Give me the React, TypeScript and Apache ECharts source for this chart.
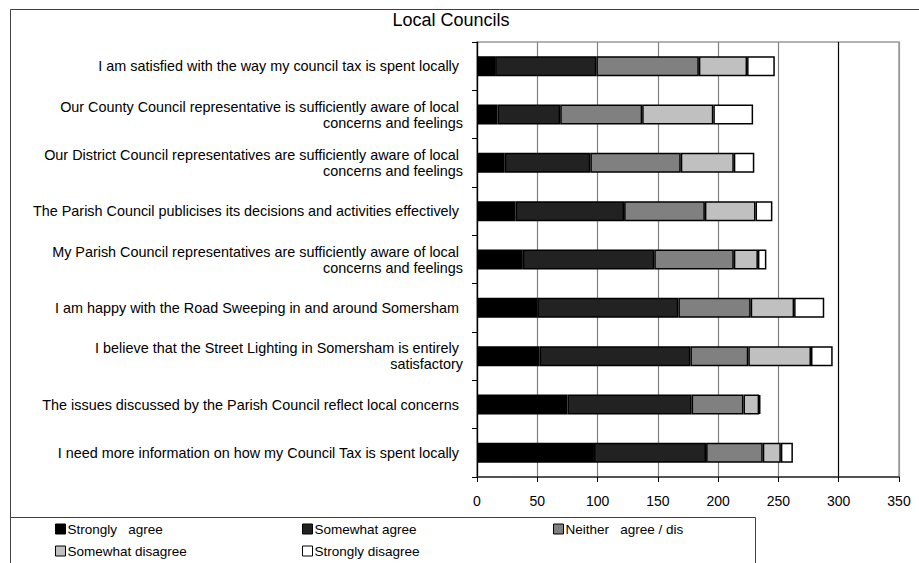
import React, { useEffect, useRef } from "react";
import * as echarts from "echarts";

const categories = [
  "I am satisfied with the way my council tax is spent locally ",
  "Our County Council representative is sufficiently aware of local \nconcerns and feelings",
  "Our District Council representatives are sufficiently aware of local \nconcerns and feelings",
  "The Parish Council publicises its decisions and activities effectively ",
  "My Parish Council representatives are sufficiently aware of local \nconcerns and feelings",
  "I am happy with the Road Sweeping in and around Somersham ",
  "I believe that the Street Lighting in Somersham is entirely \nsatisfactory",
  "The issues discussed by the Parish Council reflect local concerns ",
  "I need more information on how my Council Tax is spent locally ",
];

const seriesNames = [
  "Strongly   agree",
  "Somewhat agree",
  "Neither   agree / dis",
  "Somewhat disagree",
  "Strongly disagree",
];

const stronglyAgree = [15, 17, 23, 32, 38, 50, 52, 75, 97];
const somewhatAgree = [84, 52, 71, 90, 109, 117, 125, 103, 93];
const neither = [85, 68, 75, 67, 66, 60, 48, 43, 47];
const somewhatDisagree = [40, 59, 44, 42, 20, 36, 52, 13, 15];
const stronglyDisagree = [23, 33, 17, 14, 7, 25, 18, 1, 10];

const xTicks = [0, 50, 100, 150, 200, 250, 300, 350];

const colors = ["#000000", "#222222", "#808080", "#c0c0c0", "#ffffff"];

export default function App() {
  const ref = useRef<HTMLDivElement>(null);
  useEffect(() => {
    if (!ref.current) return;
    const chart = echarts.init(ref.current, undefined, { renderer: "svg" });
    const values = [stronglyAgree, somewhatAgree, neither, somewhatDisagree, stronglyDisagree];
    const narrow = "'Liberation Sans Narrow', 'Arial Narrow', 'Liberation Sans', Arial, sans-serif";
    const legendPos = [
      { left: 55, top: 522 },
      { left: 302, top: 522 },
      { left: 553, top: 522 },
      { left: 55, top: 544 },
      { left: 302, top: 544 },
    ];
    chart.setOption({
      animation: false,
      backgroundColor: "#ffffff",
      graphic: [
        {
          type: "rect",
          shape: { x: 10.5, y: 9.5, width: 1000, height: 1000 },
          style: { fill: "none", stroke: "#404040", lineWidth: 1 },
          silent: true,
        },
        {
          type: "rect",
          shape: { x: 10.5, y: 517.5, width: 745, height: 100 },
          style: { fill: "none", stroke: "#404040", lineWidth: 1 },
          silent: true,
        },
        {
          type: "text",
          x: 451,
          y: 20,
          style: {
            text: "Local Councils",
            fill: "#000",
            font: "18px " + narrow,
            textAlign: "center",
            textVerticalAlign: "middle",
          },
        },
      ],
      legend: seriesNames.map((n, i) => ({
        data: [n],
        left: legendPos[i].left,
        top: legendPos[i].top,
        padding: 0,
        itemWidth: 10,
        itemHeight: 10,
        icon: "rect",
        selectedMode: false,
        itemStyle: { borderColor: "#000", borderWidth: 1 },
        textStyle: { fontFamily: narrow, fontSize: 13.5, color: "#000", padding: [0, 0, 0, -3] },
      })),
      grid: {
        left: 477,
        top: 42,
        right: 20,
        bottom: 86,
        show: true,
        borderColor: "#999999",
        borderWidth: 1.5,
        containLabel: false,
      },
      xAxis: {
        type: "value",
        min: 0,
        max: 350,
        interval: 50,
        axisLine: { show: true, lineStyle: { color: "#333", width: 1.5 } },
        axisTick: { show: true, length: 5, lineStyle: { color: "#000" } },
        axisLabel: {
          fontFamily: narrow,
          fontSize: 14,
          color: "#000",
          margin: 17,
          formatter: (v: number) => (xTicks.includes(v) ? String(v) : ""),
        },
        splitLine: {
          show: true,
          lineStyle: {
            color: ["#000", "#808080", "#808080", "#808080", "#808080", "#808080", "#000", "#999"],
            width: 1.2,
          },
        },
      },
      yAxis: {
        type: "category",
        inverse: true,
        data: categories,
        axisLine: { show: true, lineStyle: { color: "#000", width: 1.2 } },
        axisTick: { show: true, length: 5, lineStyle: { color: "#000" } },
        axisLabel: {
          fontFamily: "'Liberation Sans', Arial, sans-serif",
          fontSize: 14.4,
          color: "#000",
          margin: 14,
          lineHeight: 16,
          align: "right",
        },
      },
      series: values.map((d, i) => ({
        name: seriesNames[i],
        type: "bar",
        stack: "total",
        data: d,
        barWidth: 20,
        itemStyle: { color: colors[i], borderColor: "#000", borderWidth: 1.5 },
      })),
    });
    return () => chart.dispose();
  }, []);
  return (
    <div
      ref={ref}
      style={{ position: "absolute", left: 0, top: 0, width: 919, height: 563 }}
    />
  );
}
